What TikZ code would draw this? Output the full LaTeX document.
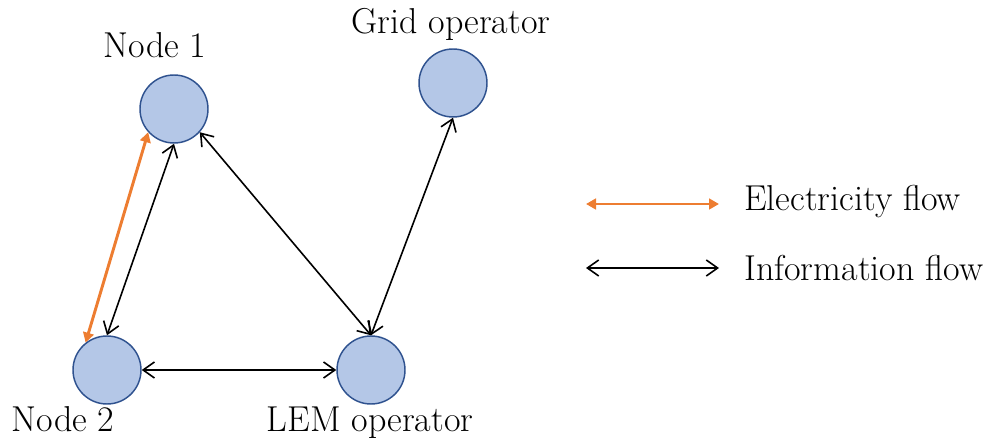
\documentclass[tikz,border=0pt]{standalone}
\usepackage[dvipsnames]{xcolor}
\usepackage{tikz}
\usetikzlibrary{arrows.meta}

\definecolor{nodefill}{RGB}{180,199,231}
\definecolor{nodeline}{RGB}{47,82,143}
\definecolor{elecorange}{RGB}{237,125,49}

\begin{document}
\begin{tikzpicture}[x=0.75pt,y=0.75pt,yscale=-1,xscale=1,
  agent/.style={circle,draw=nodeline,fill=nodefill,line width=1.1pt,minimum size=51pt,inner sep=0pt},
  lbl/.style={inner sep=0.75pt,font=\fontsize{27}{32}\selectfont},
  info/.style={line width=1.2pt,{Straight Barb[length=8.5pt,width=12pt]}-{Straight Barb[length=8.5pt,width=12pt]}},
  elec/.style={elecorange,line width=2.2pt,{Triangle[length=7.5pt,width=8pt]}-{Triangle[length=7.5pt,width=8pt]}}]
\useasboundingbox (0,0) rectangle (988,441);

%Shapes: Circles
\node [agent] (n1) at (174,109) {};
\node [agent] (grid) at (453,83) {};
\node [agent] (n2) at (107,370) {};
\node [agent] (lem) at (371,370) {};

%Straight Lines
\draw [elec] (n2.128) -- (n1.222);
\draw [info] (n2.north) -- (n1.south);
\draw [info] (n1.-42) -- (lem.north);
\draw [info] (grid.south) -- (lem.north);
\draw [info] (n2.east) -- (lem.west);

%Legend
\coordinate (e1) at (586,204);
\coordinate (e2) at (719,204);
\coordinate (i1) at (586,268);
\coordinate (i2) at (719,268);
\draw [elec] (e1) -- (e2);
\draw [info] (i1) -- (i2);

% Text Node
\node [lbl] (t1) at (155,45) {Node 1};
% Text Node
\node [lbl] (t2) at (451,24) {Grid operator};
% Text Node
\node [lbl,anchor=base] (t3) at (63,431) {Node 2};
% Text Node
\node [lbl,anchor=base] (t4) at (370,431) {LEM operator};
% Text Node
\node [lbl,anchor=west] (t5) at (743,202) {Electricity flow};
% Text Node
\node [lbl,anchor=west] (t6) at (743,268) {Information flow};
\end{tikzpicture}
\end{document}
